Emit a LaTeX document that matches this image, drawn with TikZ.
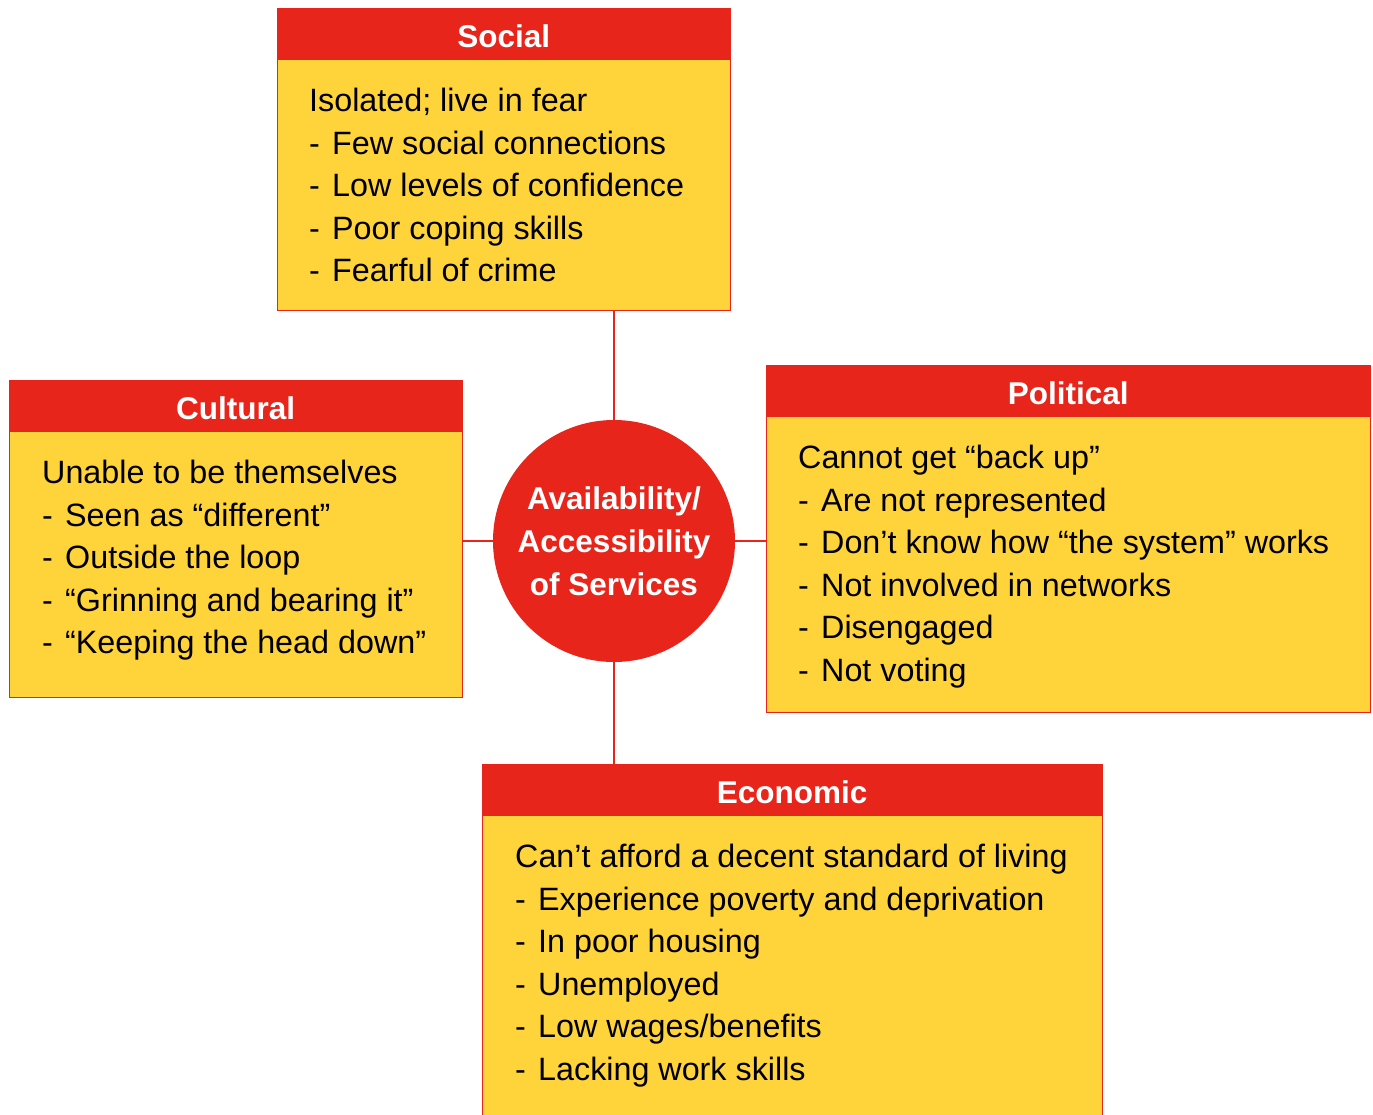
\documentclass[tikz,border=0pt]{standalone}
\usepackage{fontspec}
\setmainfont{Liberation Sans}
\definecolor{cred}{HTML}{E8251B}
\definecolor{cyel}{HTML}{FED43A}
\newcommand\dd{\makebox[23pt][l]{-}}
\begin{document}
\begin{tikzpicture}[x=1pt,y=-1pt,
  box/.style={draw=cred,line width=1.3pt,fill=cyel,anchor=north west,inner sep=0},
  hdr/.style={fill=cred,anchor=north west,inner sep=0,minimum height=52pt,text height=27pt,text depth=0pt,
    text=white,font=\fontsize{31.5}{38}\selectfont\bfseries},
  txt/.style={font=\fontsize{32.3}{38}\selectfont,anchor=base west,inner sep=0},
  htxt/.style={font=\fontsize{31.5}{38}\selectfont\bfseries,text=white,anchor=base,inner sep=0},
  link/.style={draw=cred,line width=1.3pt}]
\useasboundingbox (0,0) rectangle (1373,1114);
% boxes
\node[box,minimum width=453pt,minimum height=302pt] (social) at (277,8) {};
\node[hdr,minimum width=453pt] (socialh) at (277,8) {Social};
\node[box,minimum width=453pt,minimum height=317pt] (cult) at (9,380) {};
\node[hdr,minimum width=453pt] (culth) at (9,380) {Cultural};
\node[box,minimum width=604pt,minimum height=347pt] (pol) at (766,365) {};
\node[hdr,minimum width=604pt] (polh) at (766,365) {Political};
\node[box,minimum width=620pt,minimum height=370pt] (econ) at (482,764) {};
\node[hdr,minimum width=620pt] (econh) at (482,764) {Economic};
% hub
\node[circle,fill=cred,minimum size=242pt,inner sep=0] (hub) at (614,541) {};
\node[htxt] (hub1) at (614,509.5) {Availability/};
\node[htxt] (hub2) at (614,552.5) {Accessibility};
\node[htxt] (hub3) at (614,595.5) {of Services};
% links
\draw[link] (hub.north) -- (hub.north |- social.south);
\draw[link] (hub.south) -- (hub.south |- econ.north);
\draw[link] (hub.west) -- (hub.west -| cult.east);
\draw[link] (hub.east) -- (hub.east -| pol.west);
% texts
\foreach \t [count=\i from 0] in {Isolated; live in fear,\dd Few social connections,\dd Low levels of confidence,\dd Poor coping skills,\dd Fearful of crime}
  \node[txt] (s\i) at (309,{111.5+42.5*\i}) {\t};
\foreach \t [count=\i from 0] in {Unable to be themselves,\dd Seen as “different”,\dd Outside the loop,\dd “Grinning and bearing it”,\dd “Keeping the head down”}
  \node[txt] (c\i) at (42,{483.5+42.5*\i}) {\t};
\foreach \t [count=\i from 0] in {Cannot get “back up”,\dd Are not represented,\dd Don’t know how “the system” works,\dd Not involved in networks,\dd Disengaged,\dd Not voting}
  \node[txt] (p\i) at (798,{468.5+42.6*\i}) {\t};
\foreach \t [count=\i from 0] in {Can’t afford a decent standard of living,\dd Experience poverty and deprivation,\dd In poor housing,\dd Unemployed,\dd Low wages/benefits,\dd Lacking work skills}
  \node[txt] (e\i) at (515,{867.5+42.6*\i}) {\t};
\end{tikzpicture}
\end{document}
